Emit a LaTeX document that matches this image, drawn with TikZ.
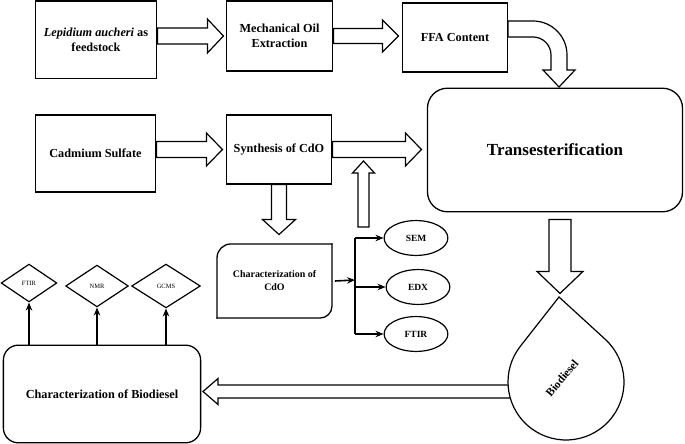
\documentclass[tikz,border=0pt]{standalone}
\usepackage{fontspec}
\setmainfont{Liberation Serif}
\usetikzlibrary{arrows.meta,calc,positioning,shapes.geometric}
\tikzset{
  pf text/.style={font=\bfseries\fontsize{12.3}{15.5}\selectfont},
  pf box/.style={draw=black, line width=1.3pt, fill=white, align=center, inner sep=2pt, pf text},
  pf round/.style={pf box, rounded corners=15pt},
  pf edge/.style={draw=black, line width=1.3pt, line cap=rect},
  pf fat/.style={draw=black, line width=1.2pt, fill=white, line join=miter},
  pf arrow/.style={-{Stealth[length=8pt,width=6.5pt]}, line width=1.6pt},
  pf oval/.style={ellipse, draw=black, line width=1.2pt, minimum width=64, minimum height=35,
    inner sep=0pt, font=\bfseries\fontsize{9.5}{11}\selectfont},
  pf diamond/.style={diamond, draw=black, line width=1.2pt, inner sep=0pt, fill=white,
    font=\fontsize{6.5}{8}\selectfont},
  pics/fat arrow/.style args={#1/#2/#3/#4}{code={
    \draw[pf fat] (0,#2) -- (#1-#4,#2) -- (#1-#4,#3) -- (#1,0) -- (#1-#4,-#3) -- (#1-#4,-#2) -- (0,-#2) -- cycle;
  }}
}

\begin{document}
\begin{tikzpicture}[x=1bp, y=-1bp]
  \useasboundingbox (0,0) rectangle (685,444);
  \node[pf box, minimum width=122, minimum height=78] (lep) at (96,40) {\textit{Lepidium aucheri} as\\feedstock};
  \node[pf box, minimum width=107, minimum height=70] (mech) at (279.5,36) {Mechanical Oil\\Extraction};
  \node[pf box, minimum width=106, minimum height=69] (ffa) at (455,37.5) {FFA Content};
  \node[pf round, rounded corners=20pt, minimum width=256, minimum height=124,
    font=\bfseries\fontsize{17}{20}\selectfont] (trans) at (555,150) {Transesterification};
  \node[pf box, minimum width=121, minimum height=77] (cad) at (95.5,153.5) {Cadmium Sulfate};
  \node[pf box, minimum width=106, minimum height=69] (syn) at (279,149.5) {Synthesis of CdO};
  \node[minimum width=115, minimum height=74, align=center, inner sep=0pt,
    font=\bfseries\fontsize{10}{13}\selectfont] (cdo) at (274.5,281) {Characterization of\\CdO};
  \draw[pf edge, rounded corners=14pt] (cdo.south west) -- (cdo.north west) -- (cdo.north east);
  \draw[pf edge, rounded corners=12pt] (cdo.north east) -- (cdo.south east) -- (cdo.south west);
  \node[pf oval] (sem) at (416,238) {SEM};
  \node[pf oval] (edx) at (418,287) {EDX};
  \node[pf oval] (ftir) at (416,334) {FTIR};
  \node[pf round, minimum width=198, minimum height=98] (bio) at (102,394) {Characterization of Biodiesel};
  \node[pf diamond, minimum width=56, minimum height=38] (dftir) at (29,283) {FTIR};
  \node[pf diamond, minimum width=63, minimum height=42] (dnmr) at (97,286) {NMR};
  \node[pf diamond, minimum width=69, minimum height=44] (dgcms) at (166,286) {GCMS};

  \pic at (lep.east |- mech.west) {fat arrow=66/8/17/16};
  \pic at (mech.east) {fat arrow=65/7.5/16/16};
  \pic at (cad.east |- syn.west) {fat arrow=66/8/16.5/16};
  \pic at (syn.east) {fat arrow=89/8/16.5/16};
  \pic[rotate=-90] at (syn.south) {fat arrow=50/7.5/16.5/15};
  \coordinate (upfoot) at (363.5,227);
  \pic[rotate=90] at (upfoot) {fat arrow=66/5.5/11/12};
  \pic[rotate=-90] at ($(trans.south)+(5,7)$) {fat arrow=74/11/23/22};
  \draw[pf fat] (508,21) -- (533,21) arc[start angle=-90, end angle=0, radius=34] -- (567,70) -- (575,70)
    -- (559,87) -- (543,70) -- (551,70) -- (551,55) arc[start angle=0, end angle=-90, radius=18] -- (508,37) -- cycle;

  \coordinate (dc) at (566,382);
  \coordinate (dtip) at (559,297);
  \pic[rotate=180] at (513,391.5) {fat arrow=310/6.5/13/15};
  \draw[pf fat] (dtip) -- ($(dc)+(312.5:58)$) arc[start angle=312.5, end angle=578.1, radius=58] -- cycle;
  \node[rotate=50, font=\bfseries\fontsize{11.5}{13}\selectfont] (bdl) at (562,378) {Biodiesel};

  \coordinate (hub) at (355,280);
  \draw[pf arrow] ([xshift=3]cdo.east) -- (hub);
  \draw[line width=1.6pt] (hub |- sem.west) -- (hub |- ftir.west);
  \draw[pf arrow] (hub |- sem.west) -- (sem.west);
  \draw[pf arrow] (hub |- edx.west) -- (edx.west);
  \draw[pf arrow] (hub |- ftir.west) -- (ftir.west);

  \draw[pf arrow] (bio.north -| dftir) -- (dftir.south);
  \draw[pf arrow] (bio.north -| dnmr) -- (dnmr.south);
  \draw[pf arrow] (bio.north -| dgcms) -- (dgcms.south);
\end{tikzpicture}
\end{document}
